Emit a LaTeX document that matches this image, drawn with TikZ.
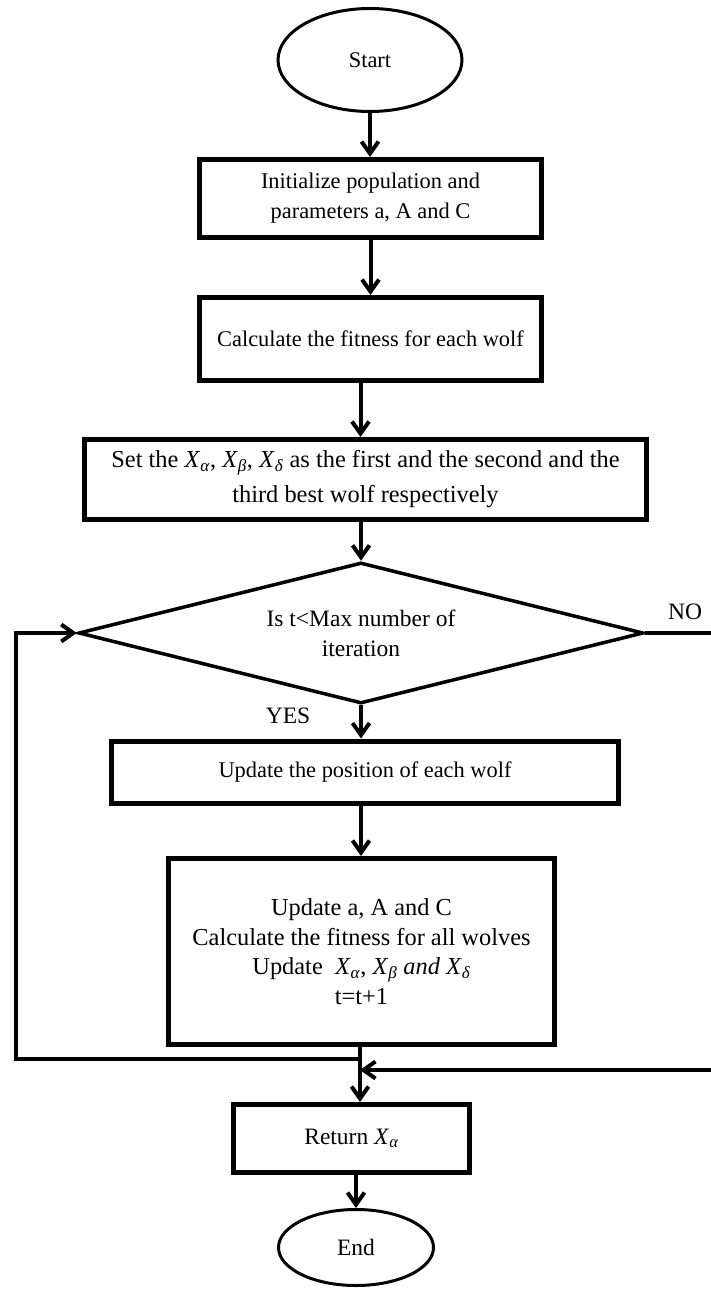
\documentclass[tikz,border=0pt]{standalone}
\usepackage{fontspec}
\setmainfont{Liberation Serif}
\usetikzlibrary{arrows.meta,shapes.geometric,calc}
\newcommand{\Xsub}[1]{\textit{X}\textsubscript{\textit{#1}}}
\begin{document}
\begin{tikzpicture}[x=1pt,y=-1pt,
  txt/.style={font=\fontsize{22.4}{30}\selectfont},
  txtb/.style={font=\fontsize{24.4}{29.5}\selectfont},
  txtm/.style={font=\fontsize{23.5}{30}\selectfont},
  box/.style={draw, rectangle, line width=5pt, align=center, inner sep=0pt, txt},
  term/.style={draw, ellipse, line width=3pt, inner sep=0pt, txt},
  dec/.style={draw, diamond, aspect=4, line width=3.5pt, inner sep=0pt, align=center, txtm},
  line/.style={line width=4pt},
  conn/.style={line, -{Straight Barb[length=12pt,width=17pt]}},
  lbl/.style={inner sep=0pt, txtm}
]
\useasboundingbox (0,0) rectangle (711,1289);
\fill[white] (0,0) rectangle (711,1289);

\node[term, minimum width=184, minimum height=103] (start) at (370,60) {Start};
\node[box, minimum width=342, minimum height=78] (b1) at (370.5,198.5)
  {Initialize population and\\parameters a, A and C};
\node[box, minimum width=342, minimum height=83] (b2) at (370.5,339)
  {Calculate the fitness for each wolf};
\node[box, minimum width=562, minimum height=80, font=\fontsize{24.4}{35}\selectfont] (b3) at (365.5,479.5)
  {Set the \Xsub{α}, \Xsub{β}, \Xsub{δ} as the first and the second and the\\third best wolf respectively};
\node[dec, minimum width=565, minimum height=141] (dia) at (361,633)
  {Is t<Max number of\\iteration};
\node[box, minimum width=507, minimum height=62] (b4) at (365,772)
  {Update the position of each wolf};
\node[box, minimum width=386, minimum height=186, txtb] (b5) at (361.5,951.5)
  {Update a, A and C\\Calculate the fitness for all wolves\\Update\ \ \Xsub{α}, \Xsub{β} \textit{and} \Xsub{δ}\\t=t+1};
\node[box, minimum width=236, minimum height=68, txtm] (b6) at (351.5,1138.5)
  {Return \Xsub{α}};
\node[term, minimum width=155, minimum height=76, txtm] (end) at (356,1247.5) {End};

\node[lbl] (no) at (685,612) {NO};
\node[lbl] (yes) at (288,716) {YES};

\coordinate (j1) at (360,1059);
\coordinate (j2) at (360,1070);
\coordinate (lc) at (16,1059);
\coordinate (rc) at (716,1070);

\draw[conn] (start.south) -- (start.south |- b1.north);
\draw[conn] (b1.south) -- (b1.south |- b2.north);
\draw[conn] ([xshift=-10pt]b2.south) -- ([xshift=-10pt]b2.south |- b3.north);
\draw[conn] (b3.south -| dia.north) -- (dia.north);
\draw[conn] (dia.south) -- (dia.south |- b4.north);
\draw[conn] (b4.south -| dia.south) -- (dia.south |- b5.north);
\draw[line] (b5.south -| j1) -- (j1);
\draw[conn] (j1) -- (j1 |- b6.north);
\draw[conn] (b6.south -| end.north) -- (end.north);
\draw[conn] (j1) -- (lc) -- (lc |- dia.west) -- (dia.west);
\draw[conn] (dia.east) -- (dia.east -| rc) -- (rc) -- (j2);
\end{tikzpicture}
\end{document}
